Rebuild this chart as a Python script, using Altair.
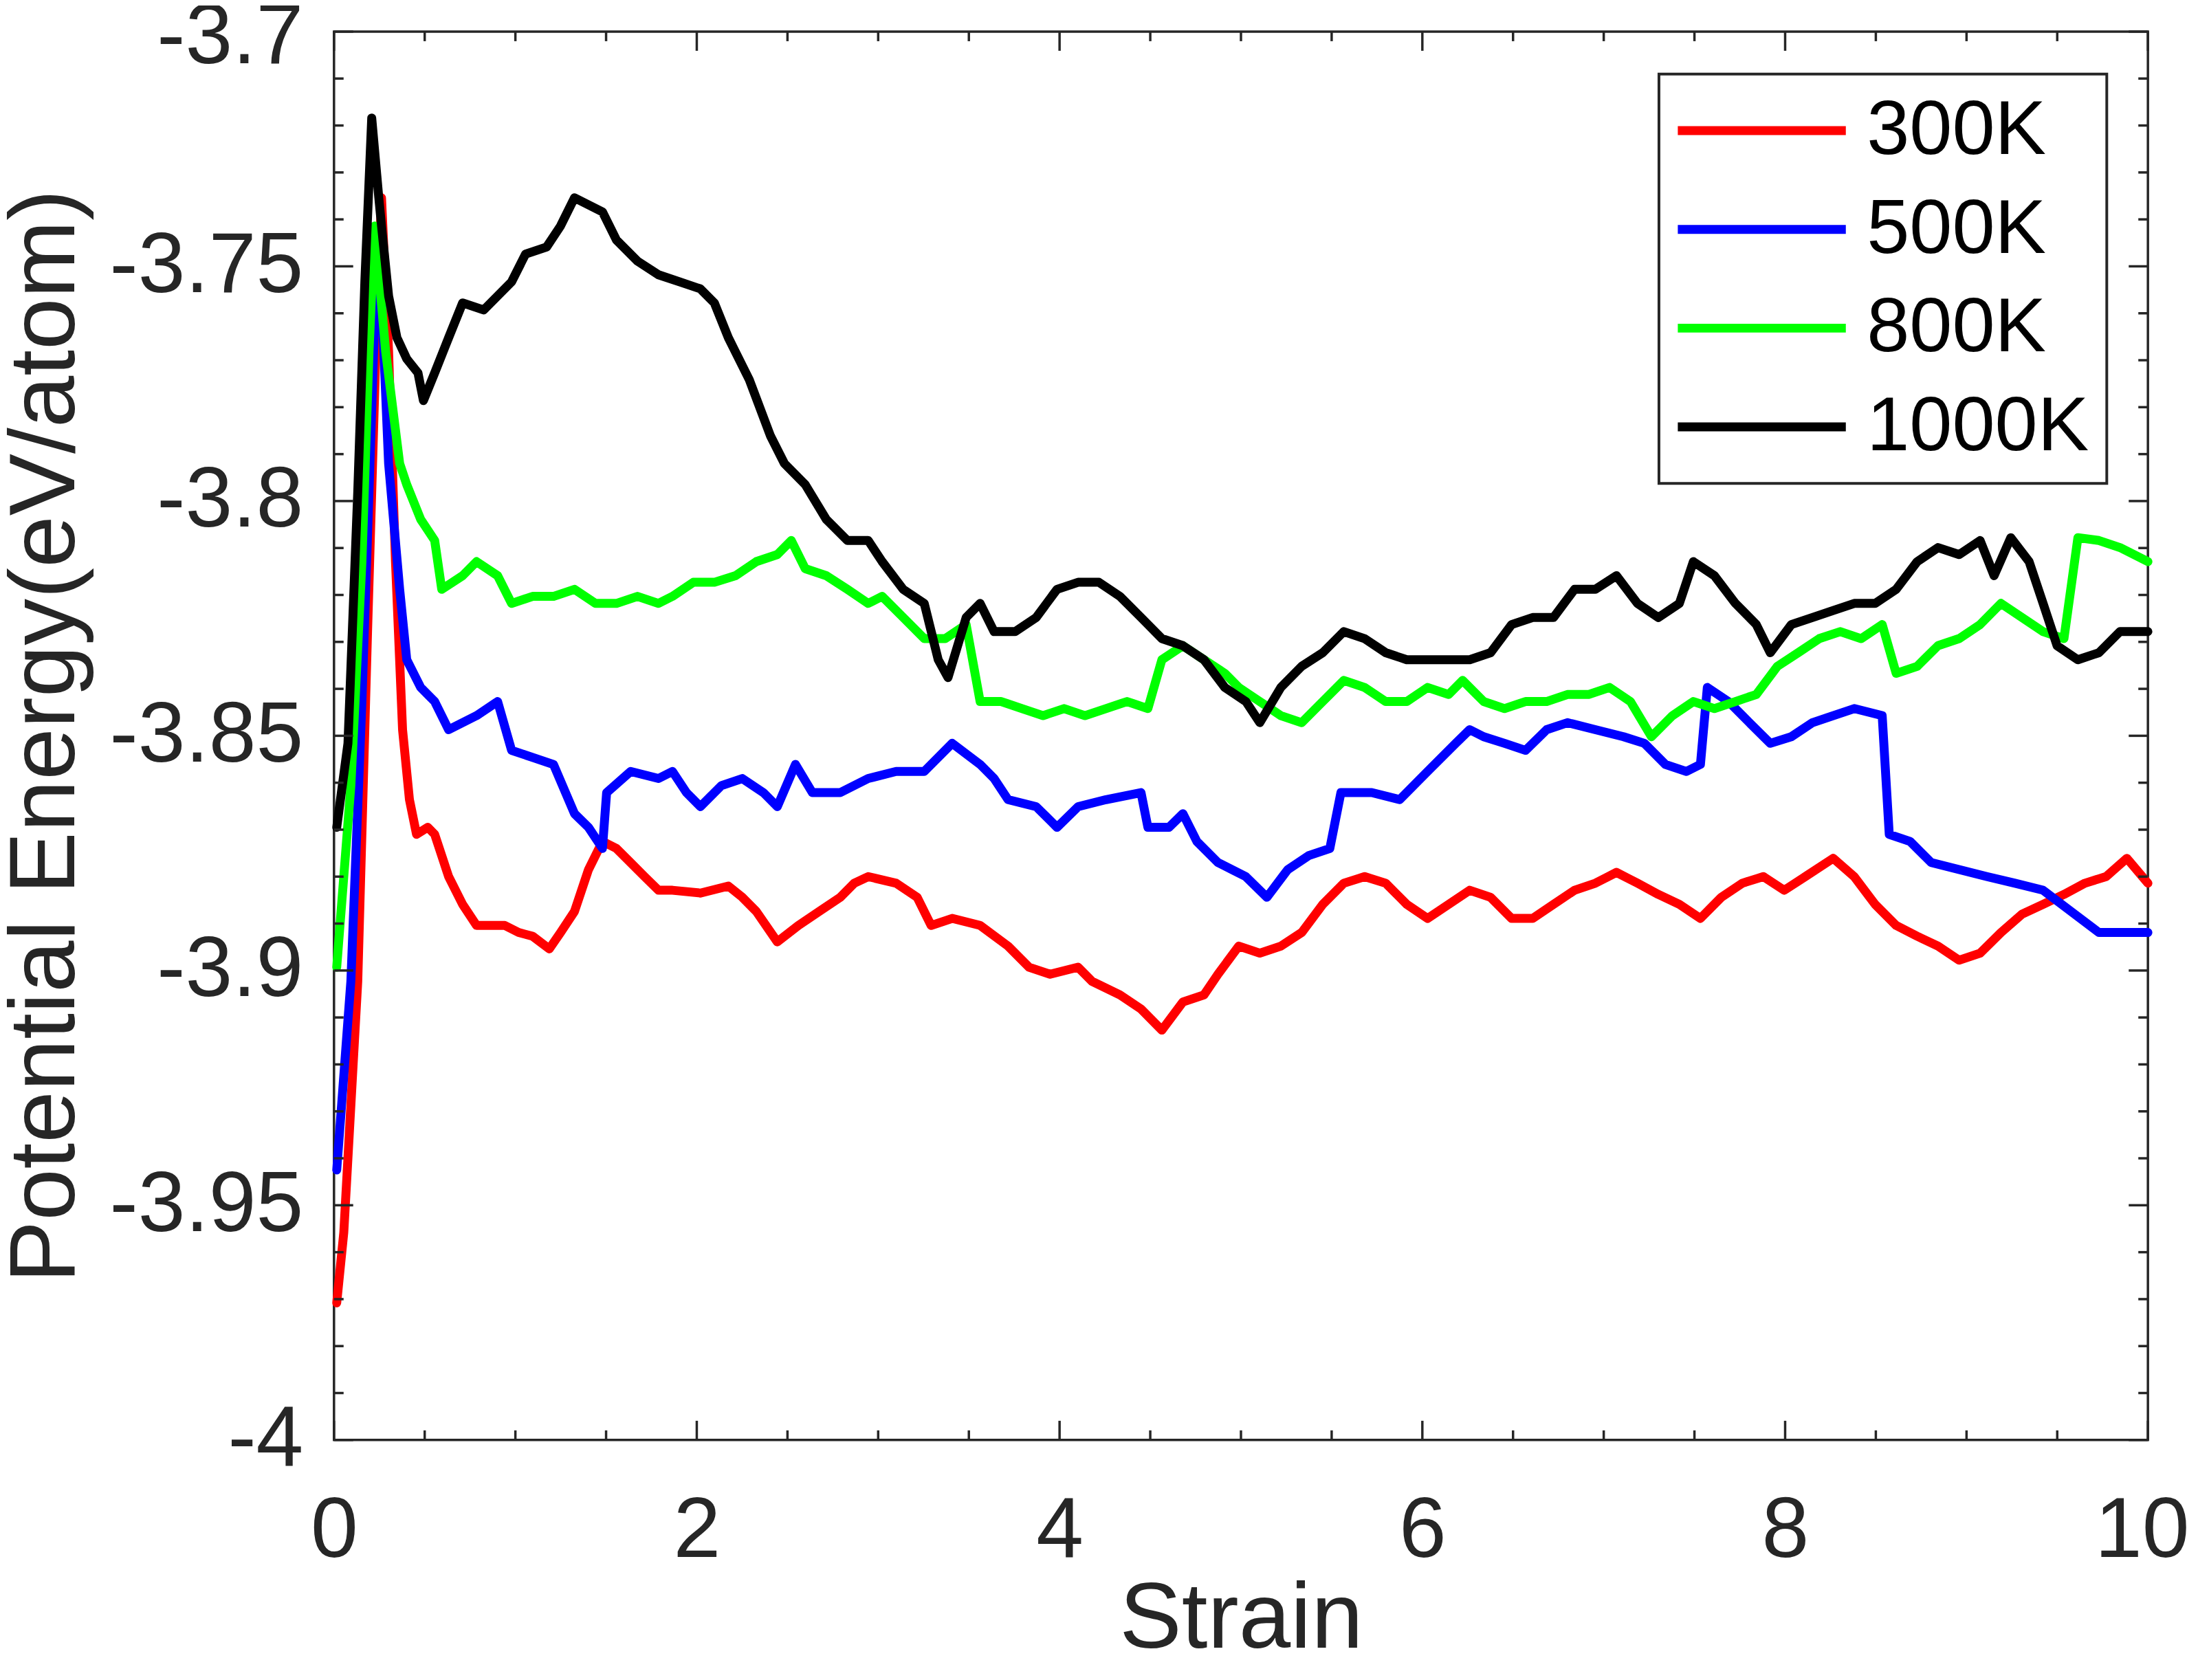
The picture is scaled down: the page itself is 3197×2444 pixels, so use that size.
import altair as alt
import pandas as pd

FONT = "Liberation Sans"
SERIES = ["300K", "500K", "800K", "1000K"]
COLORS = ["#ff0000", "#0000ff", "#00ff00", "#000000"]
WIDTHS = [13, 13, 13, 15]

x_300 = [0.015, 0.054, 0.131, 0.185, 0.231, 0.262, 0.301, 0.339, 0.378, 0.416,
         0.455, 0.517, 0.555, 0.632, 0.709, 0.786, 0.941, 1.018, 1.095, 1.187,
         1.249, 1.326, 1.403, 1.480, 1.557, 1.635, 1.712, 1.789, 1.866, 2.020,
         2.174, 2.251, 2.328, 2.444, 2.560, 2.675, 2.791, 2.868, 2.945, 3.099,
         3.215, 3.292, 3.408, 3.562, 3.716, 3.832, 3.948, 4.102, 4.179, 4.333,
         4.449, 4.564, 4.680, 4.796, 4.873, 4.988, 5.104, 5.220, 5.335, 5.451,
         5.567, 5.682, 5.798, 5.914, 6.029, 6.145, 6.261, 6.376, 6.492, 6.608,
         6.723, 6.839, 6.954, 7.070, 7.186, 7.301, 7.417, 7.533, 7.648, 7.764,
         7.880, 7.995, 8.111, 8.265, 8.381, 8.496, 8.612, 8.728, 8.843, 8.959,
         9.075, 9.190, 9.306, 9.422, 9.537, 9.653, 9.769, 9.884, 10.0]
y_300 = [-3.9708, -3.9558, -3.9023, -3.8278, -3.7682, -3.7354, -3.7682, -3.8129, -3.8487, -3.8636,
         -3.8710, -3.8695, -3.8710, -3.8800, -3.8859, -3.8904, -3.8904, -3.8919, -3.8927, -3.8954,
         -3.8919, -3.8874, -3.8785, -3.8725, -3.8740, -3.8770, -3.8800, -3.8829, -3.8829, -3.8835,
         -3.8820, -3.8844, -3.8874, -3.8939, -3.8904, -3.8874, -3.8844, -3.8814, -3.8800, -3.8814,
         -3.8844, -3.8904, -3.8889, -3.8904, -3.8948, -3.8993, -3.9008, -3.8993, -3.9023, -3.9052,
         -3.9082, -3.9127, -3.9067, -3.9052, -3.9008, -3.8948, -3.8963, -3.8948, -3.8919, -3.8859,
         -3.8814, -3.8800, -3.8814, -3.8859, -3.8889, -3.8859, -3.8829, -3.8844, -3.8889, -3.8889,
         -3.8859, -3.8829, -3.8814, -3.8791, -3.8814, -3.8838, -3.8859, -3.8889, -3.8844, -3.8814,
         -3.8800, -3.8829, -3.8800, -3.8761, -3.8800, -3.8859, -3.8904, -3.8927, -3.8948, -3.8978,
         -3.8963, -3.8919, -3.8880, -3.8859, -3.8838, -3.8814, -3.8800, -3.8761, -3.8814]

x_500 = [0.015, 0.093, 0.154, 0.193, 0.231, 0.247, 0.301, 0.362, 0.401, 0.478,
         0.555, 0.632, 0.709, 0.786, 0.902, 0.979, 1.095, 1.210, 1.326, 1.403,
         1.480, 1.503, 1.635, 1.789, 1.866, 1.943, 2.020, 2.136, 2.251, 2.367,
         2.444, 2.544, 2.637, 2.791, 2.945, 3.099, 3.254, 3.408, 3.562, 3.639,
         3.716, 3.871, 3.986, 4.102, 4.256, 4.449, 4.487, 4.603, 4.680, 4.757,
         4.873, 5.027, 5.143, 5.258, 5.374, 5.490, 5.551, 5.721, 5.875, 6.029,
         6.184, 6.261, 6.338, 6.453, 6.569, 6.685, 6.800, 6.954, 7.109, 7.224,
         7.340, 7.456, 7.533, 7.571, 7.687, 7.803, 7.918, 8.034, 8.150, 8.265,
         8.381, 8.535, 8.574, 8.689, 8.805, 8.959, 9.113, 9.267, 9.422, 9.576,
         9.730, 9.884, 10.0]
y_500 = [-3.9425, -3.9023, -3.8427, -3.7980, -3.7533, -3.7429, -3.7920, -3.8188, -3.8338, -3.8397,
         -3.8427, -3.8487, -3.8472, -3.8457, -3.8427, -3.8531, -3.8546, -3.8561, -3.8666, -3.8695,
         -3.8740, -3.8621, -3.8576, -3.8591, -3.8576, -3.8621, -3.8651, -3.8606, -3.8591, -3.8621,
         -3.8651, -3.8561, -3.8621, -3.8621, -3.8591, -3.8576, -3.8576, -3.8516, -3.8561, -3.8591,
         -3.8636, -3.8651, -3.8695, -3.8651, -3.8636, -3.8621, -3.8695, -3.8695, -3.8666, -3.8725,
         -3.8770, -3.8800, -3.8844, -3.8785, -3.8755, -3.8740, -3.8621, -3.8621, -3.8636, -3.8576,
         -3.8516, -3.8487, -3.8502, -3.8516, -3.8531, -3.8487, -3.8472, -3.8487, -3.8502, -3.8516,
         -3.8561, -3.8576, -3.8561, -3.8397, -3.8427, -3.8472, -3.8516, -3.8502, -3.8472, -3.8457,
         -3.8442, -3.8457, -3.8710, -3.8725, -3.8770, -3.8785, -3.8800, -3.8814, -3.8829, -3.8874,
         -3.8919, -3.8919, -3.8919]

x_800 = [0.015, 0.093, 0.154, 0.193, 0.224, 0.285, 0.362, 0.401, 0.478, 0.555,
         0.594, 0.709, 0.786, 0.902, 0.979, 1.095, 1.210, 1.326, 1.442, 1.557,
         1.673, 1.789, 1.866, 1.981, 2.097, 2.213, 2.328, 2.444, 2.521, 2.598,
         2.714, 2.830, 2.945, 3.022, 3.138, 3.254, 3.369, 3.485, 3.562, 3.678,
         3.793, 3.909, 4.025, 4.140, 4.256, 4.372, 4.487, 4.564, 4.680, 4.796,
         4.911, 4.988, 5.104, 5.220, 5.335, 5.451, 5.567, 5.682, 5.798, 5.914,
         6.029, 6.145, 6.222, 6.338, 6.453, 6.569, 6.685, 6.800, 6.916, 7.032,
         7.147, 7.263, 7.379, 7.494, 7.610, 7.726, 7.841, 7.957, 8.072, 8.188,
         8.304, 8.419, 8.535, 8.612, 8.728, 8.843, 8.959, 9.075, 9.190, 9.306,
         9.422, 9.537, 9.614, 9.730, 9.846, 10.0]
y_800 = [-3.8993, -3.8606, -3.8129, -3.7682, -3.7414, -3.7682, -3.7920, -3.7965, -3.8039, -3.8084,
         -3.8188, -3.8159, -3.8129, -3.8159, -3.8218, -3.8203, -3.8203, -3.8188, -3.8218, -3.8218,
         -3.8203, -3.8218, -3.8203, -3.8173, -3.8173, -3.8159, -3.8129, -3.8114, -3.8084, -3.8144,
         -3.8159, -3.8188, -3.8218, -3.8203, -3.8248, -3.8293, -3.8293, -3.8263, -3.8427, -3.8427,
         -3.8442, -3.8457, -3.8442, -3.8457, -3.8442, -3.8427, -3.8442, -3.8338, -3.8308, -3.8338,
         -3.8367, -3.8397, -3.8427, -3.8457, -3.8472, -3.8427, -3.8382, -3.8397, -3.8427, -3.8427,
         -3.8397, -3.8412, -3.8382, -3.8427, -3.8442, -3.8427, -3.8427, -3.8412, -3.8412, -3.8397,
         -3.8427, -3.8502, -3.8457, -3.8427, -3.8442, -3.8427, -3.8412, -3.8352, -3.8323, -3.8293,
         -3.8278, -3.8293, -3.8263, -3.8367, -3.8352, -3.8308, -3.8293, -3.8263, -3.8218, -3.8248,
         -3.8278, -3.8293, -3.8078, -3.8084, -3.8099, -3.8129]

x_1000 = [0.015, 0.077, 0.131, 0.170, 0.208, 0.247, 0.262, 0.301, 0.347, 0.401,
          0.463, 0.493, 0.555, 0.632, 0.709, 0.825, 0.902, 0.979, 1.056, 1.172,
          1.249, 1.326, 1.403, 1.480, 1.557, 1.673, 1.789, 1.904, 2.020, 2.097,
          2.174, 2.290, 2.406, 2.483, 2.598, 2.714, 2.830, 2.945, 3.022, 3.138,
          3.254, 3.331, 3.385, 3.485, 3.562, 3.639, 3.755, 3.871, 3.986, 4.102,
          4.217, 4.333, 4.449, 4.564, 4.680, 4.796, 4.911, 5.027, 5.104, 5.220,
          5.335, 5.451, 5.567, 5.682, 5.798, 5.914, 6.029, 6.145, 6.261, 6.376,
          6.492, 6.608, 6.723, 6.839, 6.954, 7.070, 7.186, 7.301, 7.417, 7.494,
          7.610, 7.726, 7.841, 7.918, 8.034, 8.150, 8.265, 8.381, 8.496, 8.612,
          8.728, 8.843, 8.959, 9.075, 9.152, 9.244, 9.345, 9.422, 9.499, 9.614,
          9.730, 9.846, 10.0]
y_1000 = [-3.8695, -3.8516, -3.7980, -3.7533, -3.7184, -3.7354, -3.7414, -3.7563, -3.7652, -3.7697,
          -3.7727, -3.7786, -3.7727, -3.7652, -3.7578, -3.7593, -3.7563, -3.7533, -3.7474, -3.7459,
          -3.7414, -3.7354, -3.7369, -3.7384, -3.7444, -3.7489, -3.7518, -3.7533, -3.7548, -3.7578,
          -3.7652, -3.7742, -3.7861, -3.7920, -3.7965, -3.8039, -3.8084, -3.8084, -3.8129, -3.8188,
          -3.8218, -3.8338, -3.8376, -3.8248, -3.8218, -3.8278, -3.8278, -3.8248, -3.8188, -3.8173,
          -3.8173, -3.8203, -3.8248, -3.8293, -3.8308, -3.8338, -3.8397, -3.8427, -3.8472, -3.8397,
          -3.8352, -3.8323, -3.8278, -3.8293, -3.8323, -3.8338, -3.8338, -3.8338, -3.8338, -3.8323,
          -3.8263, -3.8248, -3.8248, -3.8188, -3.8188, -3.8159, -3.8218, -3.8248, -3.8218, -3.8129,
          -3.8159, -3.8218, -3.8263, -3.8323, -3.8263, -3.8248, -3.8233, -3.8218, -3.8218, -3.8188,
          -3.8129, -3.8099, -3.8114, -3.8084, -3.8159, -3.8078, -3.8129, -3.8218, -3.8308, -3.8338,
          -3.8323, -3.8278, -3.8278]

X_MAJOR = [0, 2, 4, 6, 8, 10]
X_MINOR = [0.5, 1, 1.5, 2.5, 3, 3.5, 4.5, 5, 5.5, 6.5, 7, 7.5, 8.5, 9, 9.5]
Y_MAJOR = [-4.0, -3.95, -3.9, -3.85, -3.8, -3.75, -3.7]
Y_MINOR = [-3.99, -3.98, -3.97, -3.96, -3.94, -3.93, -3.92, -3.91,
           -3.89, -3.88, -3.87, -3.86, -3.84, -3.83, -3.82, -3.81,
           -3.79, -3.78, -3.77, -3.76, -3.74, -3.73, -3.72, -3.71]

rows = []
for name, xs_, ys_ in [("300K", x_300, y_300), ("500K", x_500, y_500),
                       ("800K", x_800, y_800), ("1000K", x_1000, y_1000)]:
    for a, b in zip(xs_, ys_, strict=True):
        rows.append({"strain": a, "pe": b, "T": name})
df = pd.DataFrame(rows)

W, H = 2645, 2054
MAJ, MIN = 28, 14
AX = "#262626"

xscale = alt.Scale(domain=[0, 10], nice=False, zero=False)
yscale = alt.Scale(domain=[-4.0, -3.7], nice=False, zero=False)

xaxis = alt.Axis(values=X_MAJOR, title="Strain", ticks=False, domain=False, grid=False,
                 labelFont=FONT, labelFontSize=124, labelColor=AX, labelPadding=72,
                 labelFlush=False, labelOverlap=False, labelLimit=1000,
                 labelExpr="'' + datum.value",
                 labelOffset={"condition": {"test": "datum.value === 10", "value": -9},
                              "value": 0},
                 titleFont=FONT, titleFontSize=136, titleFontWeight="normal",
                 titleColor=AX, titlePadding=0)
yaxis = alt.Axis(values=Y_MAJOR, title="Potential Energy(eV/atom)", ticks=False,
                 domain=False, grid=False,
                 labelFont=FONT, labelFontSize=124, labelColor=AX, labelPadding=45,
                 labelFlush=False, labelOverlap=False, labelLimit=1000,
                 labelExpr="'' + datum.value",
                 labelOffset={"condition": {"test": "datum.value === -3.7", "value": 9},
                              "value": 0},
                 titleFont=FONT, titleFontSize=136, titleFontWeight="normal",
                 titleColor=AX, titleX=-350, titleY=H / 2, titleAngle=270,
                 titleAlign="center", titleBaseline="bottom")

legend = alt.Legend(title=None, orient="none", legendX=1932, legendY=62,
                    direction="vertical", symbolType="M-1.1,0L3.8,0",
                    symbolSize=10000, symbolStrokeWidth=12,
                    labelFont=FONT, labelFontSize=112, labelColor="#000000",
                    labelOffset=164, labelLimit=1000, rowPadding=31, padding=26,
                    strokeColor=AX, fillColor="#ffffff")

lines = alt.Chart(df).mark_line(strokeJoin="round", strokeCap="round").encode(
    x=alt.X("strain:Q", scale=xscale, axis=xaxis),
    y=alt.Y("pe:Q", scale=yscale, axis=yaxis),
    color=alt.Color("T:N", scale=alt.Scale(domain=SERIES, range=COLORS), legend=legend),
    strokeWidth=alt.StrokeWidth("T:N", scale=alt.Scale(domain=SERIES, range=WIDTHS),
                                legend=None),
)

def xticks(vals, length, top):
    d = pd.DataFrame({"strain": vals})
    y0 = 0 if top else H
    y1 = length if top else H - length
    return alt.Chart(d).mark_rule(color=AX, strokeWidth=3.5).encode(
        x=alt.X("strain:Q", scale=xscale, axis=xaxis),
        y=alt.value(y0), y2=alt.value(y1))

def yticks(vals, length, right):
    d = pd.DataFrame({"pe": vals})
    x0 = W if right else 0
    x1 = W - length if right else length
    return alt.Chart(d).mark_rule(color=AX, strokeWidth=3.5).encode(
        y=alt.Y("pe:Q", scale=yscale, axis=yaxis),
        x=alt.value(x0), x2=alt.value(x1))

layers = [lines]
for top in (False, True):
    layers.append(xticks(X_MAJOR, MAJ, top))
    layers.append(xticks(X_MINOR, MIN, top))
for right in (False, True):
    layers.append(yticks(Y_MAJOR, MAJ, right))
    layers.append(yticks(Y_MINOR, MIN, right))

chart = alt.layer(*layers).properties(
    width=W, height=H,
    autosize=alt.AutoSizeParams(type="none"),
    padding={"left": 479, "top": 35, "right": 65, "bottom": 347},
    background="#ffffff",
).configure_view(stroke=AX, strokeWidth=3.5).configure_legend(strokeWidth=4)

chart.save("out.html", embed_options={"renderer": "svg", "actions": False})
